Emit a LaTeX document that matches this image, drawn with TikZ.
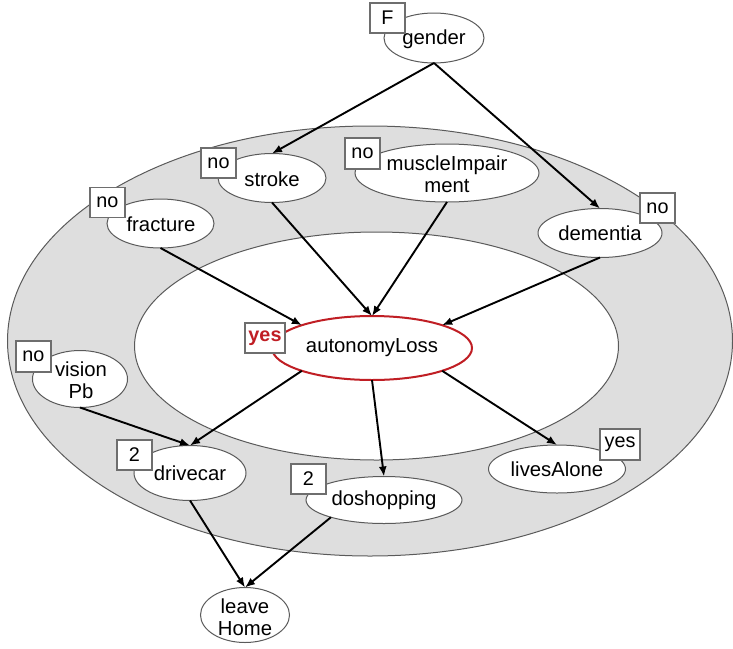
\documentclass[tikz,border=0pt]{standalone}
\usepackage{fontspec}
\setmainfont{Liberation Sans}
\usetikzlibrary{shapes.geometric,arrows.meta}
\definecolor{ringgray}{RGB}{222,222,222}
\definecolor{linegray}{RGB}{90,90,90}
\definecolor{boxgray}{RGB}{110,110,110}
\definecolor{lossred}{RGB}{192,30,36}
\begin{document}
\begin{tikzpicture}[x=1pt,y=-1pt,
  bn/.style={ellipse, draw=linegray, fill=white, line width=1pt, inner sep=0pt, outer sep=0pt},
  lbl/.style={font=\fontsize{20.3}{21.5}\selectfont, align=center, inner sep=0pt},
  valbox/.style={draw=boxgray, fill=white, line width=1.2pt, minimum width=35pt, minimum height=30pt, inner sep=0pt, font=\fontsize{19.8}{22}\selectfont},
  edge/.style={-{Latex[length=10pt,width=8pt]}, line width=1.9pt, black}]
\useasboundingbox (0,0) rectangle (733,648);
% rings
\draw[draw=linegray, fill=ringgray, line width=1pt] (370,341) ellipse [x radius=362.5pt, y radius=215pt];
\draw[draw=linegray, fill=white, line width=1pt] (376.5,346) ellipse [x radius=242pt, y radius=114pt];
% nodes
\node[bn, minimum width=100pt, minimum height=50pt] (gender) at (434,38) {};
\node[bn, minimum width=108pt, minimum height=49pt] (stroke) at (272,178) {};
\node[bn, minimum width=184pt, minimum height=58pt] (muscle) at (447,173) {};
\node[bn, minimum width=107pt, minimum height=49pt] (fracture) at (160.5,223.5) {};
\node[bn, minimum width=124pt, minimum height=49pt] (dementia) at (600,233) {};
\node[bn, draw=lossred, line width=2pt, minimum width=200pt, minimum height=64pt] (autonomy) at (372,348) {};
\node[bn, minimum width=95pt, minimum height=57pt] (vision) at (80,379) {};
\node[bn, minimum width=112pt, minimum height=55pt] (drivecar) at (190,473) {};
\node[bn, minimum width=156pt, minimum height=47pt] (doshopping) at (384,500) {};
\node[bn, minimum width=137pt, minimum height=48pt] (livesAlone) at (557,469) {};
\node[bn, minimum width=89pt, minimum height=55pt] (leaveHome) at (245,615) {};
% labels
\node[lbl] (genderT) at (434,39) {gender};
\node[lbl] (strokeT) at (272,179) {stroke};
\node[lbl] (muscleT) at (447,174) {muscleImpair\\ment};
\node[lbl] (fractureT) at (161,224) {fracture};
\node[lbl] (dementiaT) at (600,233) {dementia};
\node[lbl] (autonomyT) at (372,348) {autonomyLoss};
\node[lbl] (visionT) at (81,380) {vision\\Pb};
\node[lbl] (drivecarT) at (190,473) {drivecar};
\node[lbl] (doshoppingT) at (384,500) {doshopping};
\node[lbl] (livesAloneT) at (557,469) {livesAlone};
\node[lbl] (leaveHomeT) at (245,617) {leave\\Home};
% edges
\draw[edge] (gender.south) -- (stroke.north);
\draw[edge] (gender.south) -- (dementia.north);
\draw[edge] (stroke.south) -- (autonomy.north);
\draw[edge] (muscle.south) -- (autonomy.north);
\draw[edge] (fracture.south) -- (autonomy.162);
\draw[edge] (dementia.south) -- (autonomy.18);
\draw[edge] (autonomy.198) -- (drivecar.north);
\draw[edge] (vision.south) -- (drivecar.north);
\draw[edge] (autonomy.south) -- (doshopping.north);
\draw[edge] (autonomy.342) -- (livesAlone.north);
\draw[edge] (drivecar.south) -- (leaveHome.north);
\draw[edge] (doshopping.198) -- (leaveHome.north);
% value boxes
\node[valbox] (bF) at (387.5,18) {F};
\node[valbox] (bStroke) at (218.5,163) {no};
\node[valbox, minimum height=31pt] (bMuscle) at (362.5,153.5) {no};
\node[valbox] (bFracture) at (107.5,202.5) {no};
\node[valbox] (bDementia) at (657.5,208) {no};
\node[valbox, minimum width=40pt, text=lossred, font=\fontsize{19.8}{22}\selectfont\bfseries] (bAutonomy) at (265,338) {yes};
\node[valbox, minimum height=31pt] (bVision) at (33.5,356.5) {no};
\node[valbox] (bDrive) at (134.5,455) {2};
\node[valbox] (bShop) at (308.5,479) {2};
\node[valbox, minimum width=40pt, minimum height=31pt] (bLives) at (620,444.5) {yes};
\end{tikzpicture}
\end{document}
